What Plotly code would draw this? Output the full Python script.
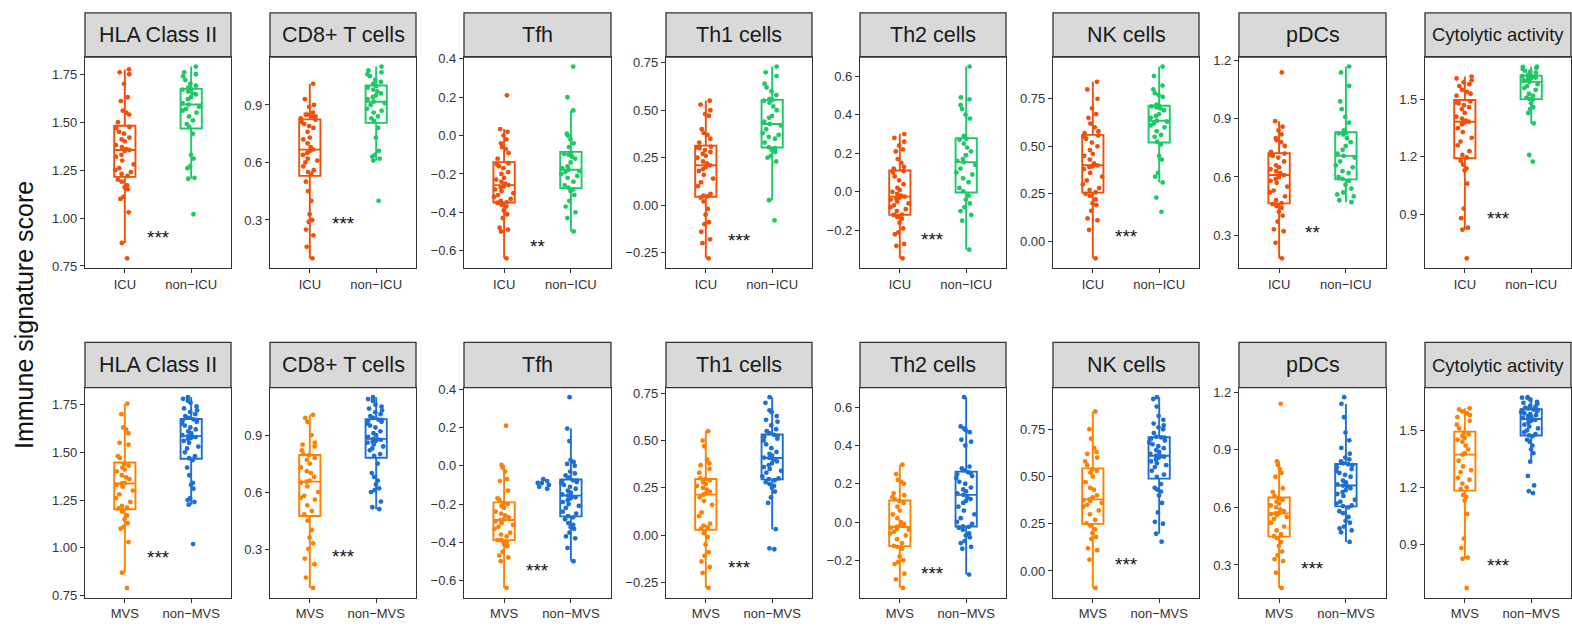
import plotly.graph_objects as go

# ---------------- data ----------------
signatures = ["HLA Class II", "CD8+ T cells", "Tfh", "Th1 cells", "Th2 cells",
              "NK cells", "pDCs", "Cytolytic activity"]
groups_top = ["ICU", "non\u2212ICU"]
groups_bottom = ["MVS", "non\u2212MVS"]

hla_icu = [0.79, 0.87, 1.03, 1.10, 1.11, 1.15, 1.16, 1.17, 1.19, 1.20, 1.22, 1.23, 1.24, 1.25, 1.26, 1.28, 1.30, 1.32, 1.33, 1.35, 1.355, 1.36, 1.37, 1.38, 1.40, 1.41, 1.42, 1.44, 1.45, 1.47, 1.475, 1.50, 1.54, 1.55, 1.56, 1.61, 1.63, 1.70, 1.75, 1.76, 1.775]
hla_nonicu = [1.02, 1.205, 1.21, 1.26, 1.27, 1.31, 1.33, 1.44, 1.476, 1.49, 1.51, 1.53, 1.55, 1.56, 1.57, 1.58, 1.592, 1.60, 1.62, 1.63, 1.645, 1.65, 1.66, 1.67, 1.672, 1.68, 1.69, 1.70, 1.72, 1.74, 1.75, 1.76, 1.79]
cd8_icu = [0.10, 0.16, 0.22, 0.25, 0.29, 0.30, 0.33, 0.40, 0.45, 0.50, 0.54, 0.55, 0.56, 0.58, 0.60, 0.61, 0.62, 0.64, 0.65, 0.66, 0.667, 0.68, 0.70, 0.72, 0.73, 0.76, 0.78, 0.79, 0.80, 0.81, 0.823, 0.83, 0.84, 0.84, 0.85, 0.85, 0.86, 0.89, 0.90, 0.93, 1.01]
cd8_nonicu = [0.40, 0.61, 0.62, 0.63, 0.64, 0.66, 0.73, 0.78, 0.815, 0.83, 0.84, 0.86, 0.87, 0.88, 0.90, 0.91, 0.917, 0.93, 0.94, 0.95, 0.96, 0.97, 0.98, 0.99, 0.999, 1.01, 1.02, 1.03, 1.05, 1.06, 1.07, 1.08, 1.10]
tfh_icu = [-0.64, -0.50, -0.49, -0.48, -0.43, -0.41, -0.39, -0.37, -0.36, -0.35, -0.348, -0.34, -0.33, -0.32, -0.31, -0.30, -0.29, -0.28, -0.27, -0.265, -0.258, -0.25, -0.24, -0.23, -0.22, -0.20, -0.19, -0.17, -0.16, -0.15, -0.144, -0.12, -0.09, -0.07, -0.06, -0.04, -0.02, 0.00, 0.02, 0.034, 0.21]
tfh_nonicu = [-0.50, -0.43, -0.40, -0.37, -0.34, -0.31, -0.29, -0.28, -0.272, -0.26, -0.24, -0.22, -0.21, -0.20, -0.19, -0.185, -0.178, -0.17, -0.16, -0.14, -0.12, -0.11, -0.10, -0.095, -0.093, -0.06, -0.04, -0.02, 0.00, 0.01, 0.131, 0.20, 0.36]
th1_icu = [-0.28, -0.20, -0.18, -0.14, -0.10, -0.09, -0.05, -0.02, 0.02, 0.04, 0.046, 0.05, 0.06, 0.10, 0.12, 0.14, 0.16, 0.18, 0.19, 0.20, 0.21, 0.22, 0.23, 0.25, 0.26, 0.27, 0.28, 0.29, 0.30, 0.305, 0.308, 0.33, 0.35, 0.37, 0.38, 0.40, 0.47, 0.48, 0.50, 0.53, 0.55]
th1_nonicu = [-0.08, 0.026, 0.23, 0.25, 0.26, 0.28, 0.29, 0.30, 0.305, 0.33, 0.35, 0.36, 0.37, 0.38, 0.40, 0.42, 0.428, 0.44, 0.46, 0.47, 0.50, 0.52, 0.54, 0.55, 0.553, 0.56, 0.58, 0.60, 0.62, 0.64, 0.68, 0.70, 0.73]
th2_icu = [-0.345, -0.28, -0.27, -0.22, -0.21, -0.19, -0.16, -0.14, -0.13, -0.12, -0.118, -0.10, -0.09, -0.08, -0.07, -0.06, -0.05, -0.04, -0.035, -0.03, -0.025, -0.02, -0.01, 0.00, 0.01, 0.02, 0.04, 0.06, 0.08, 0.10, 0.108, 0.12, 0.13, 0.15, 0.17, 0.21, 0.22, 0.24, 0.26, 0.28, 0.30]
th2_nonicu = [-0.30, -0.15, -0.12, -0.10, -0.08, -0.06, -0.04, -0.02, 0.0025, 0.02, 0.05, 0.07, 0.09, 0.10, 0.12, 0.14, 0.154, 0.16, 0.17, 0.19, 0.21, 0.23, 0.25, 0.27, 0.275, 0.29, 0.38, 0.40, 0.43, 0.45, 0.48, 0.49, 0.65]
nk_icu = [-0.09, 0.06, 0.11, 0.12, 0.16, 0.19, 0.20, 0.22, 0.24, 0.25, 0.258, 0.27, 0.28, 0.30, 0.32, 0.34, 0.36, 0.38, 0.39, 0.395, 0.40, 0.41, 0.43, 0.45, 0.46, 0.48, 0.50, 0.52, 0.54, 0.55, 0.557, 0.57, 0.58, 0.60, 0.62, 0.65, 0.67, 0.70, 0.75, 0.80, 0.84]
nk_nonicu = [0.155, 0.23, 0.31, 0.34, 0.36, 0.43, 0.45, 0.51, 0.524, 0.55, 0.56, 0.58, 0.60, 0.61, 0.62, 0.63, 0.635, 0.65, 0.66, 0.67, 0.69, 0.70, 0.705, 0.71, 0.712, 0.72, 0.76, 0.77, 0.78, 0.80, 0.82, 0.87, 0.92]
pdc_icu = [0.18, 0.26, 0.32, 0.33, 0.37, 0.40, 0.42, 0.44, 0.45, 0.46, 0.465, 0.48, 0.50, 0.52, 0.53, 0.55, 0.57, 0.58, 0.59, 0.60, 0.61, 0.62, 0.63, 0.64, 0.65, 0.66, 0.68, 0.70, 0.71, 0.715, 0.721, 0.73, 0.76, 0.78, 0.79, 0.80, 0.82, 0.84, 0.86, 0.888, 1.14]
pdc_nonicu = [0.47, 0.48, 0.50, 0.51, 0.52, 0.54, 0.56, 0.58, 0.59, 0.60, 0.62, 0.63, 0.65, 0.66, 0.68, 0.70, 0.709, 0.72, 0.74, 0.76, 0.78, 0.80, 0.82, 0.825, 0.828, 0.84, 0.88, 0.91, 0.95, 0.99, 1.07, 1.14, 1.17]
cyt_icu = [0.67, 0.82, 0.83, 0.88, 0.93, 1.06, 1.13, 1.14, 1.16, 1.18, 1.197, 1.21, 1.23, 1.26, 1.28, 1.30, 1.33, 1.35, 1.37, 1.38, 1.384, 1.39, 1.40, 1.41, 1.43, 1.45, 1.46, 1.47, 1.48, 1.485, 1.49, 1.52, 1.53, 1.54, 1.55, 1.57, 1.58, 1.59, 1.60, 1.61, 1.62]
cyt_nonicu = [1.175, 1.21, 1.375, 1.43, 1.45, 1.46, 1.48, 1.50, 1.503, 1.51, 1.52, 1.53, 1.55, 1.56, 1.57, 1.58, 1.592, 1.60, 1.605, 1.61, 1.615, 1.62, 1.62, 1.622, 1.623, 1.63, 1.64, 1.645, 1.65, 1.66, 1.665, 1.67, 1.672]

hla_mvs = [0.79, 0.87, 1.03, 1.10, 1.11, 1.13, 1.15, 1.17, 1.19, 1.206, 1.21, 1.22, 1.24, 1.26, 1.28, 1.30, 1.32, 1.33, 1.337, 1.34, 1.36, 1.37, 1.38, 1.40, 1.41, 1.42, 1.43, 1.439, 1.47, 1.48, 1.54, 1.55, 1.60, 1.62, 1.63, 1.70, 1.755]
hla_nonmvs = [1.02, 1.226, 1.24, 1.25, 1.26, 1.31, 1.33, 1.34, 1.38, 1.42, 1.46, 1.469, 1.48, 1.50, 1.52, 1.53, 1.55, 1.56, 1.57, 1.575, 1.58, 1.582, 1.585, 1.59, 1.60, 1.61, 1.62, 1.63, 1.64, 1.65, 1.66, 1.665, 1.67, 1.673, 1.68, 1.69, 1.70, 1.71, 1.72, 1.73, 1.74, 1.76, 1.77, 1.78, 1.789]
cd8_mvs = [0.095, 0.15, 0.22, 0.25, 0.30, 0.33, 0.36, 0.40, 0.45, 0.482, 0.50, 0.53, 0.56, 0.57, 0.58, 0.60, 0.63, 0.65, 0.655, 0.66, 0.68, 0.70, 0.71, 0.73, 0.75, 0.77, 0.78, 0.794, 0.80, 0.82, 0.84, 0.85, 0.86, 0.90, 0.97, 0.99, 1.007]
cd8_nonmvs = [0.51, 0.52, 0.55, 0.60, 0.61, 0.62, 0.64, 0.66, 0.68, 0.70, 0.75, 0.791, 0.80, 0.82, 0.83, 0.84, 0.85, 0.86, 0.865, 0.87, 0.875, 0.878, 0.88, 0.89, 0.90, 0.91, 0.92, 0.94, 0.95, 0.96, 0.97, 0.975, 0.98, 0.982, 0.99, 1.00, 1.01, 1.02, 1.03, 1.04, 1.05, 1.06, 1.08, 1.09, 1.10]
tfh_mvs = [-0.64, -0.50, -0.48, -0.47, -0.45, -0.42, -0.41, -0.40, -0.39, -0.389, -0.37, -0.36, -0.35, -0.33, -0.32, -0.31, -0.30, -0.29, -0.284, -0.28, -0.27, -0.26, -0.25, -0.24, -0.22, -0.21, -0.20, -0.195, -0.18, -0.17, -0.13, -0.08, -0.07, -0.03, -0.01, 0.005, 0.21]
tfh_nonmvs = [-0.50, -0.43, -0.38, -0.37, -0.35, -0.33, -0.32, -0.31, -0.30, -0.28, -0.27, -0.263, -0.25, -0.24, -0.22, -0.21, -0.20, -0.19, -0.18, -0.17, -0.165, -0.16, -0.156, -0.15, -0.14, -0.13, -0.12, -0.11, -0.10, -0.09, -0.085, -0.08, -0.078, -0.076, -0.06, -0.05, -0.04, -0.03, 0.00, 0.01, 0.02, 0.03, 0.13, 0.195, 0.36]
tfh_nonmvs_cluster = [-0.07, -0.08, -0.09, -0.09, -0.10, -0.11, -0.12]
th1_mvs = [-0.28, -0.20, -0.17, -0.14, -0.11, -0.09, -0.05, -0.01, 0.01, 0.034, 0.04, 0.05, 0.06, 0.10, 0.12, 0.16, 0.18, 0.20, 0.214, 0.22, 0.23, 0.24, 0.25, 0.26, 0.27, 0.28, 0.29, 0.296, 0.30, 0.33, 0.35, 0.37, 0.38, 0.40, 0.47, 0.50, 0.55]
th1_nonmvs = [-0.075, -0.07, 0.031, 0.17, 0.20, 0.23, 0.25, 0.26, 0.27, 0.28, 0.29, 0.296, 0.30, 0.31, 0.33, 0.34, 0.35, 0.36, 0.37, 0.38, 0.39, 0.40, 0.408, 0.41, 0.42, 0.43, 0.44, 0.46, 0.48, 0.50, 0.51, 0.52, 0.525, 0.53, 0.54, 0.55, 0.56, 0.58, 0.60, 0.61, 0.63, 0.65, 0.66, 0.70, 0.73]
th2_mvs = [-0.345, -0.30, -0.27, -0.22, -0.21, -0.20, -0.18, -0.14, -0.13, -0.125, -0.11, -0.09, -0.07, -0.06, -0.05, -0.04, -0.035, -0.03, -0.026, -0.02, -0.01, 0.00, 0.02, 0.04, 0.06, 0.08, 0.10, 0.11, 0.12, 0.13, 0.14, 0.15, 0.20, 0.21, 0.22, 0.25, 0.30]
th2_nonmvs = [-0.275, -0.14, -0.13, -0.11, -0.10, -0.08, -0.07, -0.06, -0.04, -0.03, -0.025, -0.023, -0.01, 0.00, 0.02, 0.04, 0.06, 0.08, 0.10, 0.11, 0.12, 0.13, 0.142, 0.15, 0.16, 0.17, 0.18, 0.20, 0.21, 0.23, 0.24, 0.25, 0.255, 0.261, 0.27, 0.28, 0.29, 0.40, 0.42, 0.43, 0.47, 0.48, 0.49, 0.50, 0.653]
nk_mvs = [-0.09, 0.06, 0.11, 0.12, 0.17, 0.18, 0.20, 0.22, 0.24, 0.252, 0.27, 0.30, 0.32, 0.34, 0.35, 0.36, 0.37, 0.375, 0.379, 0.39, 0.40, 0.43, 0.44, 0.47, 0.50, 0.52, 0.53, 0.537, 0.56, 0.58, 0.60, 0.62, 0.63, 0.65, 0.70, 0.75, 0.844]
nk_nonmvs = [0.155, 0.197, 0.25, 0.26, 0.31, 0.36, 0.40, 0.42, 0.43, 0.44, 0.46, 0.498, 0.51, 0.53, 0.55, 0.56, 0.57, 0.58, 0.59, 0.60, 0.605, 0.608, 0.61, 0.62, 0.63, 0.64, 0.65, 0.66, 0.67, 0.68, 0.69, 0.70, 0.705, 0.707, 0.71, 0.73, 0.75, 0.76, 0.77, 0.78, 0.80, 0.82, 0.87, 0.91, 0.92]
pdc_mvs = [0.18, 0.26, 0.32, 0.33, 0.35, 0.37, 0.40, 0.42, 0.44, 0.45, 0.46, 0.48, 0.50, 0.52, 0.54, 0.55, 0.56, 0.565, 0.569, 0.57, 0.58, 0.59, 0.60, 0.61, 0.62, 0.63, 0.64, 0.649, 0.66, 0.68, 0.70, 0.76, 0.78, 0.80, 0.82, 0.84, 1.14]
pdc_nonmvs = [0.42, 0.47, 0.48, 0.49, 0.50, 0.52, 0.53, 0.55, 0.57, 0.58, 0.60, 0.607, 0.61, 0.62, 0.63, 0.64, 0.66, 0.67, 0.68, 0.69, 0.70, 0.71, 0.714, 0.72, 0.73, 0.74, 0.76, 0.77, 0.78, 0.79, 0.80, 0.81, 0.82, 0.825, 0.83, 0.84, 0.85, 0.86, 0.88, 0.91, 0.95, 0.99, 1.07, 1.14, 1.175]
cyt_mvs = [0.67, 0.824, 0.83, 0.88, 0.93, 1.06, 1.13, 1.15, 1.16, 1.19, 1.20, 1.22, 1.24, 1.25, 1.28, 1.29, 1.31, 1.34, 1.372, 1.38, 1.40, 1.42, 1.44, 1.45, 1.46, 1.47, 1.48, 1.488, 1.51, 1.53, 1.55, 1.57, 1.58, 1.59, 1.60, 1.61, 1.616]
cyt_nonmvs = [1.17, 1.18, 1.21, 1.26, 1.335, 1.38, 1.40, 1.42, 1.44, 1.45, 1.47, 1.474, 1.48, 1.49, 1.50, 1.51, 1.52, 1.53, 1.54, 1.55, 1.555, 1.558, 1.56, 1.565, 1.57, 1.575, 1.58, 1.585, 1.59, 1.595, 1.60, 1.605, 1.608, 1.61, 1.615, 1.62, 1.625, 1.63, 1.64, 1.645, 1.65, 1.66, 1.67, 1.672, 1.675]

top_a = [hla_icu, cd8_icu, tfh_icu, th1_icu, th2_icu, nk_icu, pdc_icu, cyt_icu]
top_b = [hla_nonicu, cd8_nonicu, tfh_nonicu, th1_nonicu, th2_nonicu, nk_nonicu, pdc_nonicu, cyt_nonicu]
bot_a = [hla_mvs, cd8_mvs, tfh_mvs, th1_mvs, th2_mvs, nk_mvs, pdc_mvs, cyt_mvs]
bot_b = [hla_nonmvs, cd8_nonmvs, tfh_nonmvs, th1_nonmvs, th2_nonmvs, nk_nonmvs, pdc_nonmvs, cyt_nonmvs]

stars_top = ["***", "***", "**", "***", "***", "***", "**", "***"]
stars_top_y = [0.92, 0.305, -0.556, -0.163, -0.229, 0.046, 0.334, 0.898]
stars_bottom = ["***"] * 8
stars_bottom_y = [0.968, 0.28, -0.53, -0.149, -0.249, 0.053, 0.305, 0.812]

# ---------------- style / layout ----------------
W, H = 1572, 630
FONT = "Liberation Sans, Arial, Helvetica, sans-serif"
col_top = ["#F0500A", "#1CC964"]
col_bot = ["#FF8000", "#1E6FD4"]
tick_step = [0.25, 0.3, 0.2, 0.25, 0.2, 0.25, 0.3, 0.3]
tick_fmt = [".2f", ".1f", ".1f", ".2f", ".1f", ".2f", ".1f", ".1f"]
strip_size = [21.5, 21.5, 21.5, 21.5, 21.5, 21.5, 21.5, 18.5]
panel_x = [(85, 231), (270, 416), (464, 611), (666, 812), (860, 1006),
           (1053, 1199), (1239, 1386), (1425, 1571)]
rows = [  # strip top, plot top, plot bottom (px)
    (7, 52, 267),
    (343, 389, 603),
]
LINE = "#333333"

fig = go.Figure()
shapes = []
annotations = []
layout_axes = {}

for r in range(2):
    groups = groups_top if r == 0 else groups_bottom
    cols = col_top if r == 0 else col_bot
    A = top_a if r == 0 else bot_a
    B = top_b if r == 0 else bot_b
    stars = stars_top if r == 0 else stars_bottom
    stars_y = stars_top_y if r == 0 else stars_bottom_y
    s_top, p_top, p_bot = rows[r]
    for c in range(8):
        k = r * 8 + c + 1
        xn = "x" if k == 1 else f"x{k}"
        yn = "y" if k == 1 else f"y{k}"
        xl = "xaxis" if k == 1 else f"xaxis{k}"
        yl = "yaxis" if k == 1 else f"yaxis{k}"
        for gi, vals in enumerate([A[c], B[c]]):
            fig.add_trace(go.Box(
                y=vals, x=[groups[gi]] * len(vals), xaxis=xn, yaxis=yn,
                boxpoints="all", jitter=1.0, pointpos=0, width=0.32,
                whiskerwidth=0, fillcolor="rgba(255,255,255,0)",
                line=dict(color=cols[gi], width=1.9),
                marker=dict(color=cols[gi], size=4.8),
                showlegend=False, hoverinfo="y"))
        allv = A[c] + B[c]
        if r == 1 and c == 2:
            fig.add_trace(go.Box(
                y=tfh_nonmvs_cluster, x=[groups[1]] * len(tfh_nonmvs_cluster),
                xaxis=xn, yaxis=yn, boxpoints="all", jitter=0.5, pointpos=-1.95,
                width=0.42, whiskerwidth=0, fillcolor="rgba(0,0,0,0)",
                line=dict(color="rgba(0,0,0,0)", width=0),
                marker=dict(color=cols[1], size=4.8),
                showlegend=False, hoverinfo="y"))
            allv = allv + tfh_nonmvs_cluster
        lo, hi = min(allv), max(allv)
        pad = 0.05 * (hi - lo)
        x0, x1 = panel_x[c]
        layout_axes[xl] = dict(
            domain=[x0 / W, x1 / W], anchor=yn, type="category",
            categoryorder="array", categoryarray=groups,
            range=[-0.6, 1.6], showline=True, mirror=True, linecolor=LINE,
            linewidth=1.3, ticks="outside", ticklen=4, tickwidth=1.2,
            tickcolor=LINE, showgrid=False, zeroline=False,
            tickfont=dict(family=FONT, size=13, color="#333333"))
        layout_axes[yl] = dict(
            domain=[1 - p_bot / H, 1 - p_top / H], anchor=xn,
            range=[lo - pad, hi + pad], showline=True, mirror=True,
            linecolor=LINE, linewidth=1.3, ticks="outside", ticklen=4,
            tickwidth=1.2, tickcolor=LINE, showgrid=False, zeroline=False,
            tick0=0, dtick=tick_step[c], tickformat=tick_fmt[c],
            tickfont=dict(family=FONT, size=13, color="#333333"))
        shapes.append(dict(type="rect", xref="paper", yref="paper",
                           x0=x0 / W, x1=x1 / W, y0=1 - p_top / H, y1=1 - s_top / H,
                           fillcolor="#D9D9D9", line=dict(color=LINE, width=1.3),
                           layer="below"))
        annotations.append(dict(xref="paper", yref="paper",
                                x=(x0 + x1) / 2 / W, y=1 - (s_top + p_top) / 2 / H,
                                text=signatures[c], showarrow=False,
                                xanchor="center", yanchor="middle",
                                font=dict(family=FONT, size=strip_size[c], color="#1A1A1A")))
        annotations.append(dict(xref=xn, yref=yn, x=0.5, y=stars_y[c],
                                text=stars[c], showarrow=False,
                                xanchor="center", yanchor="middle", yshift=-4,
                                font=dict(family=FONT, size=19, color="#111111")))

annotations.append(dict(xref="paper", yref="paper", x=24 / W, y=1 - 315 / H,
                        text="Immune signature score", showarrow=False,
                        textangle=-90, xanchor="center", yanchor="middle",
                        font=dict(family=FONT, size=25, color="#111111")))

fig.update_layout(
    width=W, height=H, margin=dict(l=0, r=0, t=0, b=0),
    paper_bgcolor="white", plot_bgcolor="white", showlegend=False,
    font=dict(family=FONT), shapes=shapes, annotations=annotations,
    boxmode="overlay", **layout_axes)

fig.write_html(
    "out.html",
    config={"displayModeBar": False},
    post_script=("document.body.style.margin='0';"
                 "document.body.style.overflow='hidden';"
                 "document.documentElement.style.overflow='hidden';"))
